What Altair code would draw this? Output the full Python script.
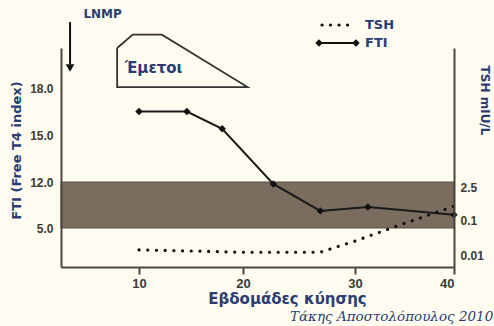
import math
import altair as alt
import pandas as pd

# ---- data ----
weeks_fti = [10, 14.6, 18.0, 22.7, 26.9, 31.3, 40]
fti = [16.5, 16.5, 15.4, 11.7, 7.6, 8.2, 7.0]
weeks_tsh = [10, 15, 20, 25, 26.9, 30, 35, 40]
tsh = [0.014, 0.013, 0.012, 0.012, 0.012, 0.025, 0.08, 0.38]
band_weeks = [2.5, 40]
band_fti = [5.0, 12.0]
x_ticks = [10, 20, 30, 40]
fti_ticks = [5.0, 12.0, 15.0, 18.0]
tsh_ticks = [0.01, 0.1, 2.5]
vomit_weeks = [7.9, 9.4, 12.2, 20.4, 7.9, 7.9]
vomit_fti = [20.55, 21.4, 21.4, 18.06, 18.06, 20.55]
arrow_weeks = [3.37, 3.37]
arrow_fti = [22.2, 19.5]

NAVY = "#2c3c70"
DARK = "#3a3a36"
AXC = "#4a463e"
BG = "#fefcf0"

fti_df = pd.DataFrame({"week": weeks_fti, "fti": fti})
tsh_df = pd.DataFrame({"week": weeks_tsh, "tsh": tsh})
band_df = pd.DataFrame({"x0": [band_weeks[0]], "x1": [band_weeks[1]],
                        "y0": [band_fti[0]], "y1": [band_fti[1]]})
vom_df = pd.DataFrame({"week": vomit_weeks, "fti": vomit_fti, "i": list(range(len(vomit_weeks)))})
arr_df = pd.DataFrame({"week": arrow_weeks, "fti": arrow_fti})
head_df = pd.DataFrame({"week": [arrow_weeks[0]], "fti": [19.28]})
txt_df = pd.DataFrame({"week": [11.4, 6.5], "fti": [19.3, 22.7], "t": ["Έμετοι", "LNMP"]})

xscale = alt.Scale(domain=[2.5, 10, 20, 30, 40], range=[0, 78, 182, 294, 393], nice=False, zero=False)
xaxis = alt.Axis(values=x_ticks, tickSize=7, tickWidth=2, tickColor=AXC, domainColor=AXC,
                 domainWidth=2, labelFont="Liberation Sans", labelFontSize=13,
                 labelFontWeight="bold", labelColor=DARK, labelPadding=3, grid=False,
                 title="Εβδομάδες κύησης", titleX=226, titleY=31, titleBaseline="middle",
                 titleFont="DejaVu Sans", titleFontSize=15, titleFontWeight="bold",
                 titleColor=NAVY, zindex=1)

yscale = alt.Scale(domain=[0, 5, 12, 18, 20.55], range=[219, 180, 134, 40, 0], nice=False, zero=False)
yaxis = alt.Axis(values=fti_ticks, format=".1f", ticks=False, labelPadding=8, domainColor=AXC,
                 domainWidth=2, labelFont="Liberation Sans", labelFontSize=12,
                 labelFontWeight="bold", labelColor=DARK, grid=False,
                 title="FTI (Free T4 index)", titleAngle=-90, titleX=-45, titleY=102,
                 titleAlign="center", titleBaseline="middle", titleFont="DejaVu Sans",
                 titleFontSize=13, titleFontWeight="bold", titleColor=NAVY, zindex=1)


def X(field):
    return alt.X(f"{field}:Q", scale=xscale, axis=xaxis)


def Y(field):
    return alt.Y(f"{field}:Q", scale=yscale, axis=yaxis)


band = alt.Chart(band_df).mark_rect(color="#7a6d5f", stroke="#5a5044", strokeWidth=1).encode(
    x=X("x0"), x2="x1", y=Y("y0"), y2="y1")

fti_line = alt.Chart(fti_df).mark_line(color="#1a1a1a", strokeWidth=2).encode(
    x=X("week"), y=Y("fti"))
fti_pts = alt.Chart(fti_df).mark_point(shape="diamond", filled=True, size=55, color="#111",
                                       opacity=1).encode(x=X("week"), y=Y("fti"))

vomit = alt.Chart(vom_df).mark_line(color="#333", strokeWidth=1.8).encode(
    x=X("week"), y=Y("fti"), order="i:O")
arrow = alt.Chart(arr_df).mark_line(color="#111", strokeWidth=2).encode(x=X("week"), y=Y("fti"))
head = alt.Chart(head_df).mark_point(shape="triangle-down", filled=True, size=75, color="#111",
                                     opacity=1).encode(x=X("week"), y=Y("fti"))
texts = alt.Chart(txt_df).mark_text(font="DejaVu Sans", fontWeight="bold", color=NAVY).encode(
    x=X("week"), y=Y("fti"), text="t:N",
    size=alt.Size("t:N", scale=alt.Scale(domain=["Έμετοι", "LNMP"], range=[15, 12]), legend=None))

# hand-drawn legend in the top corner
leg_tsh = alt.Chart(band_df).mark_rule(strokeDash=[0.1, 8.4], strokeCap="round", strokeWidth=3.2,
                                       color="#111").encode(
    x=alt.value(261), x2=alt.value(292), y=alt.value(-23))
leg_fti = alt.Chart(band_df).mark_rule(strokeWidth=2, color="#111").encode(
    x=alt.value(258), x2=alt.value(295), y=alt.value(-5))
leg_d1 = alt.Chart(band_df).mark_point(shape="diamond", filled=True, size=55, color="#111",
                                       opacity=1).encode(x=alt.value(258), y=alt.value(-5))
leg_d2 = alt.Chart(band_df).mark_point(shape="diamond", filled=True, size=55, color="#111",
                                       opacity=1).encode(x=alt.value(295), y=alt.value(-5))
leg_t1 = alt.Chart(band_df).mark_text(font="DejaVu Sans", fontWeight="bold", fontSize=13,
                                      color=NAVY, align="left", baseline="middle").encode(
    x=alt.value(304), y=alt.value(-23), text=alt.value("TSH"))
leg_t2 = alt.Chart(band_df).mark_text(font="DejaVu Sans", fontWeight="bold", fontSize=13,
                                      color=NAVY, align="left", baseline="middle").encode(
    x=alt.value(304), y=alt.value(-5), text=alt.value("FTI"))
sig = alt.Chart(band_df).mark_text(font="DejaVu Serif", fontStyle="italic", fontSize=13.5,
                                   color=NAVY, align="left", baseline="middle").encode(
    x=alt.value(229), y=alt.value(269), text=alt.value("Τάκης Αποστολόπουλος 2010"))

left = alt.layer(band, fti_line, fti_pts, vomit, arrow, head, texts,
                 leg_tsh, leg_fti, leg_d1, leg_d2, leg_t1, leg_t2, sig)

tscale = alt.Scale(domain=[-2.343, -2, -1, math.log10(2.5), 6.29],
                   range=[219, 207, 172, 139, 0], nice=False, zero=False)
taxis = alt.Axis(orient="right", values=[math.log10(v) for v in tsh_ticks],
                 labelExpr="format(pow(10, datum.value), '~g')", ticks=False, labelPadding=6,
                 domainColor=AXC, domainWidth=2, labelFont="Liberation Sans", labelFontSize=12,
                 labelFontWeight="bold", labelColor=DARK, grid=False,
                 title="TSH mIU/L", titleAngle=90, titleX=30, titleY=52, titleAlign="center",
                 titleBaseline="middle", titleFont="DejaVu Sans", titleFontSize=12,
                 titleFontWeight="bold", titleColor=NAVY, zindex=1)

tsh_line = alt.Chart(tsh_df).transform_calculate(
    lt="log(datum.tsh) / LN10").mark_line(
    strokeDash=[0.1, 8.6], strokeCap="round", strokeWidth=3.2, color="#111").encode(
    x=X("week"), y=alt.Y("lt:Q", scale=tscale, axis=taxis))

chart = alt.layer(left, tsh_line).resolve_scale(y="independent").properties(
    width=393, height=219,
    autosize=alt.AutoSizeParams(type="none"),
    padding={"left": 61, "top": 48, "right": 40, "bottom": 59},
    background=BG,
).configure_view(stroke=None)

chart.save("out.html", embed_options={"renderer": "svg", "actions": False})
